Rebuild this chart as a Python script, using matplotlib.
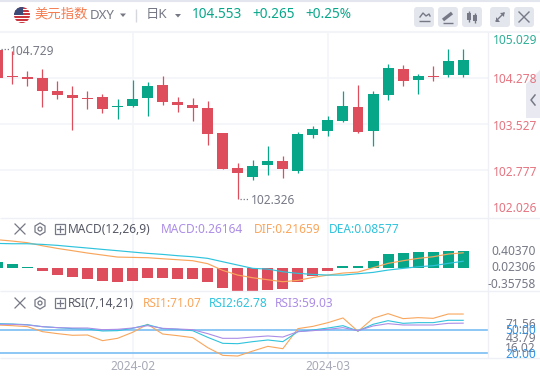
import matplotlib
matplotlib.use('Agg')
import matplotlib.pyplot as plt
from matplotlib.patches import Circle, FancyBboxPatch, Polygon, Rectangle

plt.rcParams['font.family'] = ['Noto Sans', 'Noto Sans CJK SC', 'DejaVu Sans']

# Цены
price_open = [104.740, 104.316, 104.304, 104.283, 104.071, 104.005, 103.957, 103.973,
              103.813, 103.826, 103.957, 104.169, 103.891, 103.842, 103.793, 103.385,
              102.814, 102.667, 102.863, 102.928, 102.765, 103.352, 103.418, 103.581,
              103.810, 103.418, 104.005, 104.430, 104.250, 104.316, 104.332, 104.332]
price_close = [104.283, 104.299, 104.267, 104.076, 104.005, 103.957, 103.940, 103.777,
               103.826, 103.940, 104.152, 103.896, 103.842, 103.793, 103.369, 102.797,
               102.732, 102.846, 102.928, 102.797, 103.369, 103.450, 103.597, 103.826,
               103.401, 104.022, 104.446, 104.234, 104.316, 104.299, 104.560, 104.577]
price_high = [104.773, 104.729, 104.397, 104.430, 104.234, 104.152, 104.071, 104.022,
              103.940, 104.250, 104.218, 104.316, 103.968, 103.957, 103.907, 103.385,
              102.895, 102.944, 103.173, 103.010, 103.401, 103.499, 103.662, 104.071,
              104.169, 104.071, 104.512, 104.495, 104.348, 104.479, 104.756, 104.756]
price_low = [104.250, 104.185, 104.152, 103.810, 103.940, 103.434, 103.777, 103.717,
             103.614, 103.815, 103.663, 103.842, 103.728, 103.581, 103.189, 102.797,
             102.303, 102.618, 102.699, 102.650, 102.732, 103.303, 103.336, 103.565,
             103.385, 103.173, 103.924, 104.152, 104.022, 104.234, 104.299, 104.299]

# MACD
macd_bar = [0.092, 0.051, 0.010, -0.051, -0.113, -0.144, -0.174, -0.205,
            -0.221, -0.205, -0.159, -0.159, -0.174, -0.174, -0.221, -0.313,
            -0.359, -0.359, -0.345, -0.328, -0.221, -0.128, -0.051, 0.026,
            0.026, 0.103, 0.210, 0.226, 0.241, 0.241, 0.256, 0.26164]
dif_line = [0.431, 0.410, 0.385, 0.338, 0.297, 0.262, 0.226, 0.195,
            0.164, 0.159, 0.154, 0.138, 0.123, 0.108, 0.062, -0.041,
            -0.113, -0.154, -0.185, -0.215, -0.195, -0.149, -0.113, -0.082,
            -0.067, 0.000, 0.067, 0.108, 0.144, 0.169, 0.210, 0.230]
dea_line = [0.374, 0.369, 0.369, 0.359, 0.344, 0.323, 0.303, 0.282,
            0.262, 0.241, 0.221, 0.205, 0.185, 0.169, 0.144, 0.092,
            0.041, -0.010, -0.021, -0.062, -0.087, -0.103, -0.113, -0.113,
            -0.092, -0.072, -0.036, -0.010, 0.015, 0.031, 0.067, 0.100]

# RSI
rsi1 = [56.6, 55.7, 54.4, 47.8, 45.2, 43.0, 43.4, 35.9, 39.0, 46.9, 57.5, 44.7, 42.5, 39.9, 26.7, 16.5,
        15.6, 22.2, 28.4, 25.3, 51.8, 54.8, 59.7, 65.9, 48.2, 65.4, 71.6, 65.0, 66.3, 65.4, 71.1, 71.07]
rsi2 = [58.4, 57.9, 57.0, 54.4, 53.1, 51.8, 51.3, 48.7, 49.1, 52.2, 57.0, 51.8, 50.9, 49.1, 40.3, 32.4,
        31.9, 34.6, 36.8, 34.6, 47.8, 50.0, 52.6, 55.7, 48.7, 57.5, 62.3, 58.8, 59.7, 59.7, 62.8, 62.78]
rsi3 = [57.5, 57.5, 56.6, 54.4, 53.1, 52.6, 52.6, 50.4, 50.9, 52.6, 55.7, 52.2, 51.3, 50.4, 45.2, 39.0,
        39.0, 40.7, 42.1, 40.7, 47.8, 49.1, 50.9, 53.1, 49.1, 55.3, 58.4, 56.6, 56.6, 56.6, 58.8, 59.03]
rsi_levels = [50, 20]

price_grid = [104.278, 103.527, 102.777]
date_idx = [9, 22]
date_labels = ['2024-02', '2024-03']

RED = '#DD4D5B'
GREEN = '#08A689'
ORANGE = '#F9A65C'
CYAN = '#2FC3DC'
PURPLE = '#AB8DE6'
BLUE = '#2F93EA'
GRID = '#F4F5F9'
GREY = '#767985'

W, H = 540, 380
fig = plt.figure(figsize=(5.4, 3.8), dpi=100, facecolor='white')


def panel(top, bottom):
    ax = fig.add_axes([0, 1 - bottom / H, 488 / W, (bottom - top) / H])
    ax.set_xlim(0.18, 32.65)
    ax.patch.set_alpha(0)
    for s in ax.spines.values():
        s.set_visible(False)
    ax.set_xticks([])
    ax.set_yticks([])
    for i in date_idx:
        ax.axvline(i, color=GRID, lw=1.2, zorder=0)
    return ax


idx = list(range(len(price_open)))

# Свечи
ax1 = panel(32, 218)
ax1.set_ylim(101.997, 105.034)
for g in price_grid:
    ax1.axhline(g, color=GRID, lw=1.2, zorder=0)
colors = [GREEN if c > o else RED for o, c in zip(price_open, price_close)]
ax1.vlines(idx, price_low, price_high, colors=colors, lw=0.9, zorder=2)
ax1.bar(idx, [abs(c - o) for o, c in zip(price_open, price_close)],
        bottom=[min(o, c) for o, c in zip(price_open, price_close)],
        width=0.73, color=colors, zorder=3)

# MACD
ax2 = panel(218, 291)
ax2.set_ylim(-0.358, 0.765)
ax2.bar(idx, macd_bar, width=0.73, color=[GREEN if v > 0 else RED for v in macd_bar], zorder=2)
ax2.plot(idx, dif_line, color=ORANGE, lw=0.85, zorder=3)
ax2.plot(idx, dea_line, color=CYAN, lw=0.85, zorder=3)

# RSI
ax3 = panel(291, 358)
ax3.set_ylim(13, 101.5)
for v in rsi_levels:
    ax3.axhline(v, color='#8CC6F5', lw=1.4, zorder=1)
ax3.plot(idx, rsi1, color=ORANGE, lw=0.8, zorder=2)
ax3.plot(idx, rsi2, color=CYAN, lw=0.8, zorder=2)
ax3.plot(idx, rsi3, color=PURPLE, lw=0.8, zorder=2)

# Оформление поверх графиков, координаты в пикселях
ov = fig.add_axes([0, 0, 1, 1])
ov.set_xlim(0, W)
ov.set_ylim(H, 0)
ov.axis('off')
ov.patch.set_alpha(0)


def txt(x, y, s, color=GREY, size=8.6, ha='left', **kw):
    ov.text(x, y, s, color=color, fontsize=size, ha=ha, va='center', **kw)


def hline(y, x0=0, x1=W, color='#EEF0F5', lw=1.0):
    ov.plot([x0, x1], [y, y], color=color, lw=lw, solid_capstyle='butt')


def vline(x, y0, y1, color='#EEF0F5', lw=1.0):
    ov.plot([x, x], [y0, y1], color=color, lw=lw, solid_capstyle='butt')


hline(0.5, color='#E3E6EF', lw=1.5)
hline(31.5, color='#F3F4F8', lw=1.5)
hline(218)
hline(291)
hline(358)
vline(488, 32, 358)

# Флаг
flag = Circle((22, 15), 8, fc='white', ec='none')
ov.add_patch(flag)
for y in [7, 10, 13, 16, 19, 22]:
    r = Rectangle((14, y), 16, 1.5, fc='#C9353F', ec='none')
    ov.add_patch(r)
    r.set_clip_path(flag)
canton = Rectangle((14, 7), 9, 7.5, fc='#3C4A78', ec='none')
ov.add_patch(canton)
canton.set_clip_path(flag)

txt(34, 14.5, '美元指数', color='#F47B4F', size=9.6)
txt(90, 15.5, 'DXY', size=9.6)
ov.add_patch(Polygon([[120, 13.5], [126, 13.5], [123, 17]], fc=GREY, ec='none'))
vline(136, 9, 22, color='#D5D7DF')
txt(146, 14.5, '日K', size=9.6)
ov.add_patch(Polygon([[175, 14], [181, 14], [178, 17.5]], fc=GREY, ec='none'))
txt(192, 14.5, '104.553', color=GREEN, size=9.8, fontweight='bold')
txt(252, 14.5, '+0.265', color=GREEN, size=9.8, fontweight='bold')
txt(305, 14.5, '+0.25%', color=GREEN, size=9.8, fontweight='bold')

# Кнопки
for x in [414, 438, 462, 490, 514]:
    ov.add_patch(FancyBboxPatch((x + 2, 9), 16, 16, boxstyle='round,pad=2,rounding_size=3',
                                fc='#E4E6EE', ec='none'))
ov.plot([420, 423, 426, 429, 430], [17, 13, 16, 14, 16], color=GREY, lw=1)
hline(21, 419, 430, color=GREY, lw=1)
ov.plot([443, 452], [20, 13], color=GREY, lw=2.4, solid_capstyle='butt')
hline(22.5, 443, 453, color=GREY, lw=1)
ov.add_patch(Rectangle((467, 13), 3.5, 7, fc=GREY, ec='none'))
ov.add_patch(Rectangle((473, 15), 3.5, 6, fc=GREY, ec='none'))
vline(468.7, 11, 22, color=GREY)
vline(474.7, 13, 23, color=GREY)
ov.plot([496, 504], [21, 13], color=GREY, lw=1)
ov.add_patch(Polygon([[500, 13], [504.5, 12.5], [504, 17]], fc=GREY, ec='none'))
ov.add_patch(Polygon([[495.5, 17], [495.5, 21.5], [500, 21.5]], fc=GREY, ec='none'))
ov.plot([519, 529], [12, 22], color=GREY, lw=1)
ov.plot([519, 529], [22, 12], color=GREY, lw=1)

# Подписи цены
txt(492.7, 40, '105.029', color='#2FAE96')
txt(492.7, 79.5, '104.278', color='#E57480')
txt(492.7, 126.5, '103.527', color='#E57480')
txt(492.7, 172.5, '102.777', color='#E57480')
txt(492.7, 208, '102.026', color='#E57480')
ov.plot([1, 9], [49, 49], color=GREY, lw=0.9, ls=(0, (1, 1.5)))
ov.plot([240, 248], [199, 199], color=GREY, lw=0.9, ls=(0, (1, 1.5)))
txt(10, 51.5, '104.729')
txt(251, 201, '102.326')

# Боковая вкладка
ov.add_patch(Polygon([[526, 84], [540, 70], [540, 118], [526, 118]], fc='#E9EAF1', ec='none'))
ov.plot([535, 531, 535], [95, 100, 105], color=GREY, lw=1.1)


def pane_icons(y):
    ov.plot([15, 25], [y - 5, y + 5], color=GREY, lw=0.9)
    ov.plot([15, 25], [y + 5, y - 5], color=GREY, lw=0.9)
    ov.add_patch(Polygon([[40, y - 6], [45, y - 3], [45, y + 3], [40, y + 6], [35, y + 3], [35, y - 3]],
                         fc='none', ec=GREY, lw=0.9))
    ov.add_patch(Circle((40, y), 2, fc='none', ec=GREY, lw=0.9))
    ov.add_patch(Rectangle((55, y - 5), 10, 10, fc='none', ec=GREY, lw=0.9))
    ov.plot([57, 63], [y, y], color=GREY, lw=0.9)
    ov.plot([60, 60], [y - 3, y + 3], color=GREY, lw=0.9)


# Легенда MACD
pane_icons(229)
txt(68, 229.5, 'MACD(12,26,9)', color='#555864')
txt(161, 229.5, 'MACD:0.26164', color=PURPLE)
txt(254, 229.5, 'DIF:0.21659', color=ORANGE)
txt(329, 229.5, 'DEA:0.08577', color=CYAN)
txt(536, 251.7, '0.40370', ha='right')
txt(536, 267.7, '0.02306', ha='right')
txt(536, 284, '-0.35758', ha='right')

# Легенда RSI
pane_icons(303)
txt(68, 303.5, 'RSI(7,14,21)', color='#555864')
txt(143, 303.5, 'RSI1:71.07', color=ORANGE)
txt(209, 303.5, 'RSI2:62.78', color=CYAN)
txt(275, 303.5, 'RSI3:59.03', color=PURPLE)
txt(536, 325, '71.56', ha='right')
txt(536, 338, '43.79', ha='right')
txt(536, 348, '16.02', ha='right')
txt(536, 330.5, '50.00', color=BLUE, ha='right')
txt(536, 354, '20.00', color=BLUE, ha='right')

# Даты
for i, s in zip(date_idx, date_labels):
    px = 12.3 + 15.03 * (i - 1)
    txt(px, 367, s, color='#A7AAB6', ha='center')

fig.savefig('out.png', dpi=100)
